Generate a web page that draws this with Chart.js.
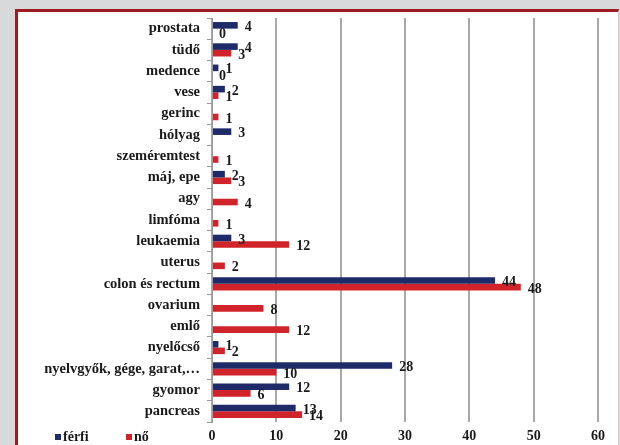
<!DOCTYPE html>
<html>
<head>
<meta charset="utf-8">
<script src="https://cdn.jsdelivr.net/npm/chart.js@4/dist/chart.umd.min.js"></script>
<style>
    html, body { margin: 0; padding: 0; }
    body { width: 620px; height: 445px; background: #d8d9db; position: relative; overflow: hidden; }
    #frame {
        position: absolute; left: 15px; top: 9px; width: 600px; height: 450px;
        background: #fff; border-left: 3px solid #9c1c21; border-top: 3px solid #9c1c21;
        border-right: 1px solid #e6c3c5;
    }
    #wrap { position: absolute; left: 0; top: 0; width: 620px; height: 445px; }
</style>
</head>
<body>
<div id="frame"></div>
<div id="wrap"><canvas id="chart"></canvas></div>
<script>
// Categories top to bottom
const categories = [
    'prostata', 'tüdő', 'medence', 'vese', 'gerinc', 'hólyag', 'szeméremtest',
    'máj, epe', 'agy', 'limfóma', 'leukaemia', 'uterus', 'colon és rectum',
    'ovarium', 'emlő', 'nyelőcső', 'nyelvgyők, gége, garat,…', 'gyomor', 'pancreas'
];

// null = no bar / no label in the original
const ferfi = [4, 4, 1, 2, null, 3, null, 2, null, null, 3, null, 44, null, null, 1, 28, 12, 13];
const no = [0, 3, 0, 1, 1, null, 1, 3, 4, 1, 12, 2, 48, 8, 12, 2, 10, 6, 14];

const seriesNames = ['férfi', 'nő'];
const seriesColors = ['#1f2a68', '#d1232a'];

const serif = "'Liberation Serif', 'DejaVu Serif', serif";

// value labels at the end of each bar
const barLabels = {
    id: 'barLabels',
    afterDatasetsDraw(chart) {
        const ctx = chart.ctx;
        ctx.save();
        ctx.font = `bold 14px ${serif}`;
        ctx.fillStyle = '#1a1a1a';
        ctx.textAlign = 'left';
        ctx.textBaseline = 'middle';
        chart.data.datasets.forEach((ds, i) => {
            const meta = chart.getDatasetMeta(i);
            meta.data.forEach((bar, j) => {
                const v = ds.data[j];
                if (v === null || v === undefined) return;
                ctx.fillText(String(v), bar.x + 7, bar.y + 2);
            });
        });
        ctx.restore();
    }
};

// legend bottom-left, next to the x axis labels
const bottomLegend = {
    id: 'bottomLegend',
    afterDraw(chart) {
        const ctx = chart.ctx;
        const y = 437;
        const xs = [55, 126];
        ctx.save();
        ctx.font = `bold 14px ${serif}`;
        ctx.textBaseline = 'middle';
        ctx.textAlign = 'left';
        seriesNames.forEach((name, i) => {
            ctx.fillStyle = seriesColors[i];
            ctx.fillRect(xs[i], y - 3, 6, 6);
            ctx.fillStyle = '#1a1a1a';
            ctx.fillText(name, xs[i] + 8, y);
        });
        ctx.restore();
    }
};

const ctx = document.getElementById('chart').getContext('2d');
new Chart(ctx, {
    type: 'bar',
    data: {
        labels: categories,
        datasets: [
            { label: seriesNames[0], data: ferfi, backgroundColor: seriesColors[0] },
            { label: seriesNames[1], data: no, backgroundColor: seriesColors[1] }
        ]
    },
    options: {
        indexAxis: 'y',
        responsive: true,
        maintainAspectRatio: false,
        animation: false,
        categoryPercentage: 0.62,
        barPercentage: 1,
        layout: { padding: { top: 18, right: 22, bottom: 0, left: 0 } },
        plugins: {
            legend: { display: false },
            tooltip: { enabled: false }
        },
        scales: {
            x: {
                min: 0,
                max: 60,
                afterFit(scale) { scale.height = 23; },
                ticks: {
                    stepSize: 10,
                    padding: 6,
                    color: '#1a1a1a',
                    font: { family: serif, size: 14, weight: 'bold' }
                },
                grid: { color: '#a9a9a9', lineWidth: 2, drawTicks: false },
                border: { display: false }
            },
            y: {
                afterFit(scale) { scale.width = 212; },
                ticks: {
                    padding: 7,
                    color: '#1a1a1a',
                    autoSkip: false,
                    font: { family: serif, size: 14.5, weight: 'bold' }
                },
                grid: { drawOnChartArea: false, drawTicks: true, tickLength: 5, color: '#9a9a9a', offset: true },
                border: { color: '#9a9a9a', width: 1 }
            }
        }
    },
    plugins: [barLabels, bottomLegend]
});
</script>
</body>
</html>
